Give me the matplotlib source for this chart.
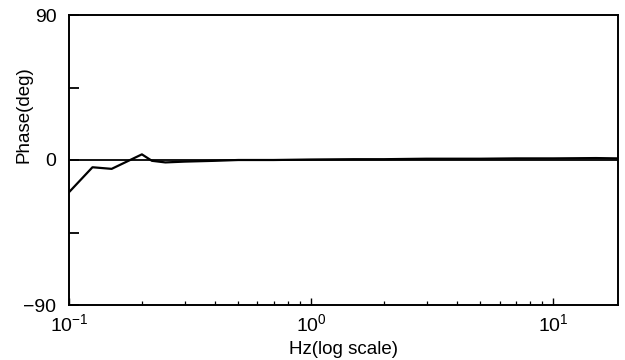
import matplotlib
matplotlib.use("Agg")
import matplotlib.pyplot as plt
from matplotlib.ticker import LogLocator, NullFormatter, FixedLocator, FixedFormatter

plt.rcParams['font.family'] = ['Liberation Sans', 'DejaVu Sans']
plt.rcParams['mathtext.fontset'] = 'custom'
plt.rcParams['mathtext.rm'] = 'Liberation Sans'
plt.rcParams['mathtext.it'] = 'Liberation Sans'

freq_hz = [0.1, 0.125, 0.15, 0.2, 0.22, 0.25, 0.3, 0.4, 0.5, 0.7, 1.0, 1.5, 2.0, 3.0, 5.0, 7.0, 10.0, 15.0, 18.5]
phase_deg = [-20, -4.5, -5.5, 3.5, -0.5, -1.5, -1.0, -0.5, 0.0, 0.0, 0.3, 0.5, 0.5, 0.8, 0.8, 1.0, 1.0, 1.2, 1.0]
y_ticks = [-90, -45, 0, 45, 90]
y_tick_labels = ['\u221290', '', '0', '', '90']

fig = plt.figure(figsize=(6.25, 3.6), dpi=100)
ax = fig.add_axes([69/625, 55/360, (618-69)/625, (305-15)/360])

ax.axhline(0, color='black', lw=1.3)
ax.plot(freq_hz, phase_deg, color='black', lw=1.6)

ax.set_xscale('log')
ax.set_xlim(0.1, 18.5)
ax.set_ylim(-90, 90)
ax.yaxis.set_major_locator(FixedLocator(y_ticks))
ax.yaxis.set_major_formatter(FixedFormatter(y_tick_labels))
ax.xaxis.set_minor_locator(LogLocator(base=10, subs=range(2, 10)))
ax.xaxis.set_minor_formatter(NullFormatter())

ax.tick_params(axis='y', direction='in', length=7, width=1.3, labelsize=14, pad=9)
ax.tick_params(axis='x', which='major', direction='in', length=5, width=1.0, labelsize=14, pad=6)
ax.tick_params(axis='x', which='minor', direction='in', length=3, width=0.9)
for s in ax.spines.values():
    s.set_linewidth(1.4)

ax.set_xlabel('Hz(log scale)', fontsize=13.5, va='center')
ax.set_ylabel('Phase(deg)', fontsize=13.5, va='center')
ax.xaxis.set_label_coords(0.5, (305 - 349) / 290)
ax.yaxis.set_label_coords((24 - 69) / 549, (305 - 115) / 290)

fig.savefig('out.png', dpi=100)
